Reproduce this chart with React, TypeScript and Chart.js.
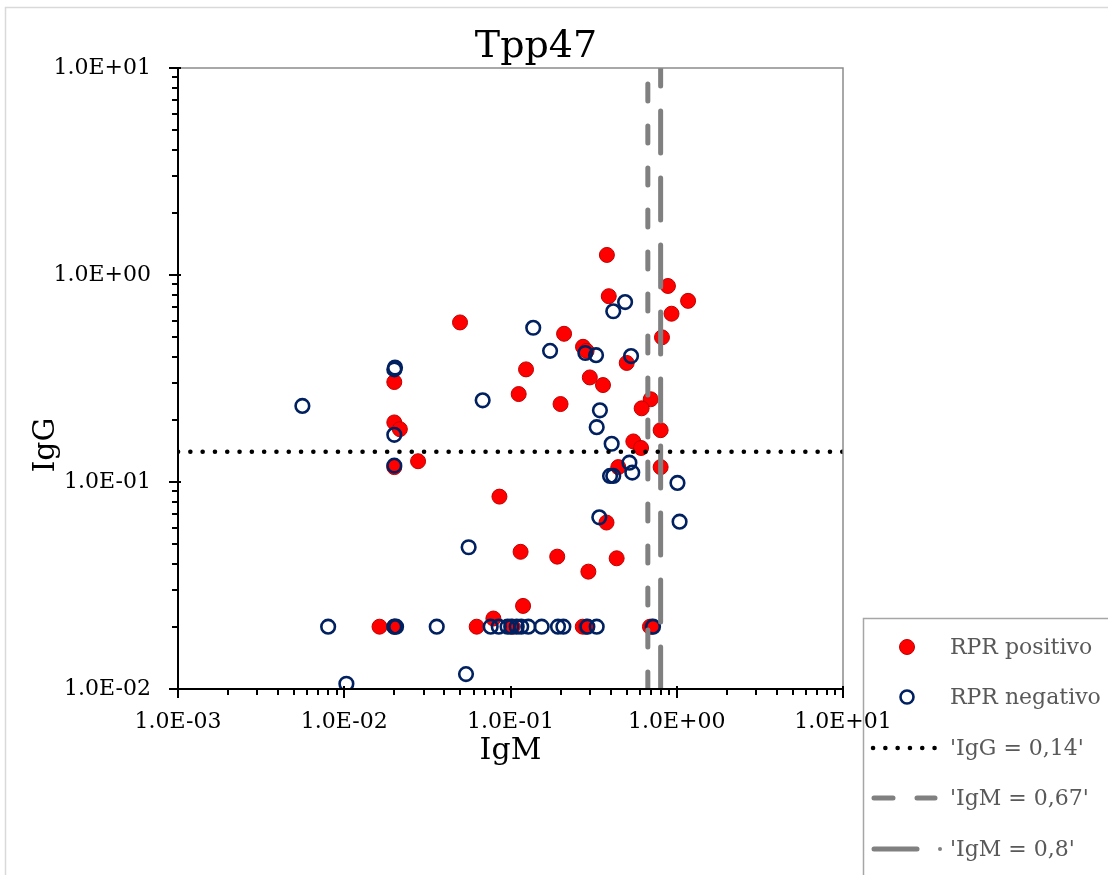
import React, { useEffect, useRef } from "react";
import { Chart, registerables } from "chart.js";

Chart.register(...registerables);

const TITLE = "Tpp47";
const X_TITLE = "IgM";
const Y_TITLE = "IgG";
const X_MIN = 0.001;
const X_MAX = 10;
const Y_MIN = 0.01;
const Y_MAX = 10;

const positiveIgM = [
  0.38, 0.885, 0.39, 1.17, 0.93, 0.0497, 0.21, 0.815, 0.273, 0.287, 0.124, 0.5,
  0.02, 0.3, 0.36, 0.112, 0.2, 0.697, 0.615, 0.8, 0.548, 0.61, 0.8, 0.445,
  0.02, 0.0216, 0.02, 0.0278, 0.0858, 0.378, 0.115, 0.191, 0.294, 0.435, 0.119, 0.0789,
  0.0163, 0.02, 0.0626, 0.103, 0.272, 0.285, 0.69, 0.71,
];
const positiveIgG = [
  1.25, 0.885, 0.79, 0.75, 0.65, 0.59, 0.52, 0.5, 0.45, 0.43, 0.35, 0.376,
  0.304, 0.32, 0.294, 0.266, 0.238, 0.251, 0.227, 0.178, 0.157, 0.146, 0.118, 0.118,
  0.194, 0.18, 0.118, 0.126, 0.085, 0.0637, 0.046, 0.0436, 0.0369, 0.0428, 0.0252, 0.0219,
  0.02, 0.02, 0.02, 0.02, 0.02, 0.02, 0.02, 0.02,
];

const negativeIgM = [
  0.0056, 0.068, 0.02, 0.0202, 0.02, 0.02, 0.137, 0.173, 0.489, 0.415, 0.282, 0.327,
  0.531, 0.345, 0.33, 0.406, 0.519, 0.54, 0.397, 0.415, 1.01, 1.04, 0.342, 0.056,
  0.0103, 0.054,
  0.008, 0.02, 0.0205, 0.036, 0.076, 0.085, 0.096, 0.101, 0.109, 0.116, 0.128, 0.154,
  0.193, 0.208, 0.29, 0.33, 0.72,
];
const negativeIgG = [
  0.233, 0.248, 0.35, 0.357, 0.169, 0.12, 0.556, 0.43, 0.74, 0.668, 0.42, 0.41,
  0.406, 0.222, 0.184, 0.153, 0.124, 0.111, 0.107, 0.107, 0.099, 0.0643, 0.0675, 0.0484,
  0.0106, 0.0118,
  0.02, 0.02, 0.02, 0.02, 0.02, 0.02, 0.02, 0.02, 0.02, 0.02, 0.02, 0.02,
  0.02, 0.02, 0.02, 0.02, 0.02,
];

const IGG_CUTOFF = 0.14;
const IGM_CUTOFF_A = 0.67;
const IGM_CUTOFF_B = 0.8;

const LEGEND_LABELS = [
  "RPR positivo",
  "RPR negativo",
  "'IgG = 0,14'",
  "'IgM = 0,67'",
  "'IgM = 0,8'",
];

const FONT = '"DejaVu Serif", "Liberation Serif", serif';

function isPow10(v: number) {
  const l = Math.log10(v);
  return Math.abs(l - Math.round(l)) < 1e-9;
}
function fmtSci(v: number) {
  const e = Math.round(Math.log10(v));
  const sign = e < 0 ? "-" : "+";
  return "1.0E" + sign + String(Math.abs(e)).padStart(2, "0");
}
function logTicks(min: number, max: number) {
  const out: { value: number }[] = [];
  const e0 = Math.floor(Math.log10(min));
  const e1 = Math.ceil(Math.log10(max));
  for (let e = e0; e <= e1; e++) {
    for (let m = 1; m <= 9; m++) {
      const v = parseFloat((m * Math.pow(10, e)).toPrecision(12));
      if (v >= min * 0.999999 && v <= max * 1.000001) out.push({ value: v });
    }
  }
  return out;
}

const decorPlugin = {
  id: "decor",
  beforeDraw(chart: any) {
    const ctx = chart.ctx;
    const ca = chart.chartArea;
    ctx.save();
    ctx.fillStyle = "#ffffff";
    ctx.fillRect(0, 0, chart.width, chart.height);
    // outer chart border
    ctx.strokeStyle = "#d9d9d9";
    ctx.lineWidth = 1.5;
    ctx.strokeRect(5.5, 7.5, chart.width + 20, chart.height + 20);

    // title
    ctx.fillStyle = "#000";
    ctx.textAlign = "center";
    ctx.textBaseline = "alphabetic";
    ctx.font = "38px " + FONT;
    ctx.fillText(TITLE, 536, 57);

    // axis titles
    ctx.font = "30px " + FONT;
    ctx.fillText(X_TITLE, (ca.left + ca.right) / 2, 759);
    ctx.save();
    ctx.translate(54, 445);
    ctx.rotate(-Math.PI / 2);
    ctx.fillText(Y_TITLE, 0, 0);
    ctx.restore();

    // legend
    const lx = 863.5, ly = 618.5;
    ctx.fillStyle = "#fff";
    ctx.fillRect(lx, ly, 400, 400);
    ctx.strokeStyle = "#a6a6a6";
    ctx.lineWidth = 1.5;
    ctx.strokeRect(lx, ly, 400, 400);
    const rows = [647, 697, 748, 798, 849];
    const ds = chart.data.datasets;
    // positive marker
    ctx.beginPath();
    ctx.arc(907, rows[0], 7.5, 0, Math.PI * 2);
    ctx.fillStyle = ds[3].backgroundColor;
    ctx.fill();
    ctx.lineWidth = 1;
    ctx.strokeStyle = ds[3].borderColor;
    ctx.stroke();
    // negative marker
    ctx.beginPath();
    ctx.arc(907, rows[1], 6.5, 0, Math.PI * 2);
    ctx.lineWidth = 2.6;
    ctx.strokeStyle = ds[4].borderColor;
    ctx.stroke();
    // dotted line
    ctx.lineCap = "round";
    ctx.strokeStyle = ds[0].borderColor;
    ctx.lineWidth = ds[0].borderWidth;
    ctx.setLineDash(ds[0].borderDash);
    ctx.beginPath();
    ctx.moveTo(873, rows[2]);
    ctx.lineTo(938, rows[2]);
    ctx.stroke();
    // dashed
    ctx.strokeStyle = ds[1].borderColor;
    ctx.lineWidth = ds[1].borderWidth;
    ctx.setLineDash([]);
    ctx.beginPath();
    ctx.moveTo(874, rows[3]);
    ctx.lineTo(893, rows[3]);
    ctx.moveTo(917, rows[3]);
    ctx.lineTo(935, rows[3]);
    ctx.stroke();
    // long dash + dot
    ctx.strokeStyle = ds[2].borderColor;
    ctx.lineWidth = ds[2].borderWidth;
    ctx.beginPath();
    ctx.moveTo(874, rows[4]);
    ctx.lineTo(917, rows[4]);
    ctx.stroke();
    ctx.beginPath();
    ctx.arc(940, rows[4], 2, 0, Math.PI * 2);
    ctx.fillStyle = ds[2].borderColor;
    ctx.fill();

    ctx.fillStyle = "#595959";
    ctx.font = "22px " + FONT;
    ctx.textAlign = "left";
    ctx.textBaseline = "middle";
    LEGEND_LABELS.forEach((t, i) => ctx.fillText(t, 950, rows[i] + 1));
    ctx.restore();
  },
  afterDraw(chart: any) {
    const ctx = chart.ctx;
    const { left, right, top, bottom } = chart.chartArea;
    const xs = chart.scales.x;
    const ys = chart.scales.y;
    ctx.save();
    ctx.strokeStyle = "#8c8c8c";
    ctx.lineWidth = 1.5;
    ctx.beginPath();
    ctx.moveTo(left, top);
    ctx.lineTo(right, top);
    ctx.lineTo(right, bottom);
    ctx.stroke();
    ctx.strokeStyle = "#000";
    ctx.lineWidth = 2;
    ctx.beginPath();
    ctx.moveTo(left, top);
    ctx.lineTo(left, bottom);
    ctx.lineTo(right, bottom);
    ctx.stroke();
    ctx.beginPath();
    xs.ticks.forEach((t: any) => {
      const px = Math.round(xs.getPixelForValue(t.value));
      const major = isPow10(t.value);
      ctx.moveTo(px, bottom - (major ? 3 : 0));
      ctx.lineTo(px, bottom + (major ? 9 : 6));
    });
    ys.ticks.forEach((t: any) => {
      const py = Math.round(ys.getPixelForValue(t.value));
      const major = isPow10(t.value);
      ctx.moveTo(left + (major ? 3 : 0), py);
      ctx.lineTo(left - (major ? 9 : 6), py);
    });
    ctx.stroke();
    ctx.restore();
  },
};

export default function App() {
  const ref = useRef<HTMLCanvasElement | null>(null);
  useEffect(() => {
    document.body.style.margin = "0";
    const canvas = ref.current;
    if (!canvas) return;
    const pos = positiveIgM.map((x, i) => ({ x, y: positiveIgG[i] }));
    const neg = negativeIgM.map((x, i) => ({ x, y: negativeIgG[i] }));
    const chart = new Chart(canvas, {
      type: "scatter",
      data: {
        datasets: [
          {
            label: LEGEND_LABELS[2],
            data: [
              { x: X_MIN, y: IGG_CUTOFF },
              { x: X_MAX, y: IGG_CUTOFF },
            ],
            showLine: true,
            borderColor: "#000000",
            borderWidth: 4.5,
            borderDash: [0.1, 12.2],
            borderCapStyle: "round",
            pointRadius: 0,
            order: 0,
          },
          {
            label: LEGEND_LABELS[3],
            data: [
              { x: IGM_CUTOFF_A, y: Y_MIN },
              { x: IGM_CUTOFF_A, y: Y_MAX },
            ],
            showLine: true,
            borderColor: "#808080",
            borderWidth: 5,
            borderDash: [17, 25],
            borderCapStyle: "round",
            pointRadius: 0,
            order: 0,
          },
          {
            label: LEGEND_LABELS[4],
            data: [
              { x: IGM_CUTOFF_B, y: Y_MIN },
              { x: IGM_CUTOFF_B, y: Y_MAX },
            ],
            showLine: true,
            borderColor: "#808080",
            borderWidth: 5,
            borderDash: [42, 25],
            borderCapStyle: "round",
            pointRadius: 0,
            order: 0,
          },
          {
            label: LEGEND_LABELS[0],
            data: pos,
            backgroundColor: "#ff0000",
            borderColor: "#c00000",
            borderWidth: 1,
            pointRadius: 7.5,
            order: 2,
          },
          {
            label: LEGEND_LABELS[1],
            data: neg,
            backgroundColor: "rgba(255,255,255,0)",
            borderColor: "#002060",
            borderWidth: 2.6,
            pointRadius: 6.8,
            order: 1,
          },
        ],
      },
      options: {
        responsive: false,
        animation: false,
        events: [],
        layout: { padding: { left: 0, top: 68, right: 265, bottom: 0 } },
        plugins: {
          legend: { display: false },
          title: { display: false },
          tooltip: { enabled: false },
        },
        scales: {
          x: {
            type: "logarithmic",
            position: "bottom",
            min: X_MIN,
            max: X_MAX,
            afterBuildTicks: (s: any) => {
              s.ticks = logTicks(X_MIN, X_MAX);
            },
            afterFit: (s: any) => {
              s.height = 186;
            },
            grid: { display: false, drawTicks: false },
            border: { display: false },
            ticks: {
              autoSkip: false,
              maxRotation: 0,
              minRotation: 0,
              padding: 20,
              color: "#000",
              font: { family: FONT, size: 22 },
              callback: (v: any) => (isPow10(Number(v)) ? fmtSci(Number(v)) : ""),
            },
          },
          y: {
            type: "logarithmic",
            position: "left",
            min: Y_MIN,
            max: Y_MAX,
            afterBuildTicks: (s: any) => {
              s.ticks = logTicks(Y_MIN, Y_MAX);
            },
            afterFit: (s: any) => {
              s.width = 178;
            },
            grid: { display: false, drawTicks: false },
            border: { display: false },
            ticks: {
              autoSkip: false,
              padding: 27,
              color: "#000",
              font: { family: FONT, size: 22 },
              callback: (v: any) => (isPow10(Number(v)) ? fmtSci(Number(v)) : ""),
            },
          },
        },
      },
      plugins: [decorPlugin],
    } as any);
    return () => chart.destroy();
  }, []);
  return (
    <div style={{ width: 1108, height: 875, position: "relative" }}>
      <canvas ref={ref} width={1108} height={875} style={{ display: "block" }} />
    </div>
  );
}
